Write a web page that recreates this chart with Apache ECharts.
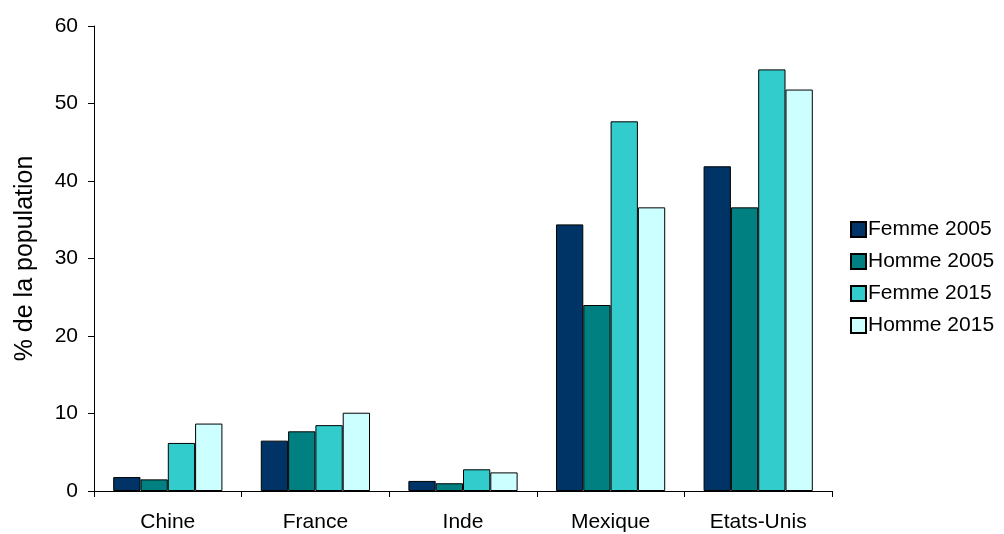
<!DOCTYPE html>
<html><head><meta charset="utf-8">
<script src="https://cdn.jsdelivr.net/npm/echarts@6/dist/echarts.min.js"></script>
<style>html,body{margin:0;padding:0;background:#fff}#c{width:1004px;height:534px}</style>
</head><body><div id="c"></div>
<script>
const categories = ['Chine', 'France', 'Inde', 'Mexique', 'Etats-Unis'];
const seriesNames = ['Femme 2005', 'Homme 2005', 'Femme 2015', 'Homme 2015'];
const femme2005 = [1.8, 6.5, 1.3, 34.4, 41.9];
const homme2005 = [1.5, 7.7, 1.0, 24.0, 36.6];
const femme2015 = [6.2, 8.5, 2.8, 47.7, 54.4];
const homme2015 = [8.7, 10.1, 2.4, 36.6, 51.8];
const colors = ['#003366', '#008080', '#33CCCC', '#CCFFFF'];
const values = [femme2005, homme2005, femme2015, homme2015];
const font = 'Liberation Sans, Arial, sans-serif';

const chart = echarts.init(document.getElementById('c'), null, {renderer: 'canvas'});
chart.setOption({
  animation: false,
  backgroundColor: '#fff',
  grid: {left: 94, right: 172, top: 26, bottom: 43, containLabel: false},
  legend: {
    orient: 'vertical', left: 845, top: 214,
    itemWidth: 15, itemHeight: 15, itemGap: 11,
    icon: 'rect',
    textStyle: {fontFamily: font, fontSize: 21, color: '#000', padding: [0, 0, 0, -3]},
    data: seriesNames
  },
  xAxis: {
    type: 'category', data: categories,
    axisLine: {lineStyle: {color: '#000', width: 1}},
    axisTick: {show: true, length: 6, lineStyle: {color: '#000'}},
    axisLabel: {fontFamily: font, fontSize: 21, color: '#000', margin: 21}
  },
  yAxis: {
    type: 'value', min: 0, max: 60, interval: 10,
    name: '% de la population', nameLocation: 'middle', nameGap: 56,
    nameTextStyle: {fontFamily: font, fontSize: 25, color: '#000'},
    axisLine: {show: true, lineStyle: {color: '#000', width: 1}},
    axisTick: {show: true, length: 6, lineStyle: {color: '#000'}},
    axisLabel: {fontFamily: font, fontSize: 21, color: '#000', margin: 16},
    splitLine: {show: false}
  },
  series: seriesNames.map((n, i) => ({
    name: n, type: 'bar', data: values[i],
    barGap: '0%', barCategoryGap: '26%',
    itemStyle: {color: colors[i], borderColor: '#000', borderWidth: 1}
  }))
});
</script></body></html>
